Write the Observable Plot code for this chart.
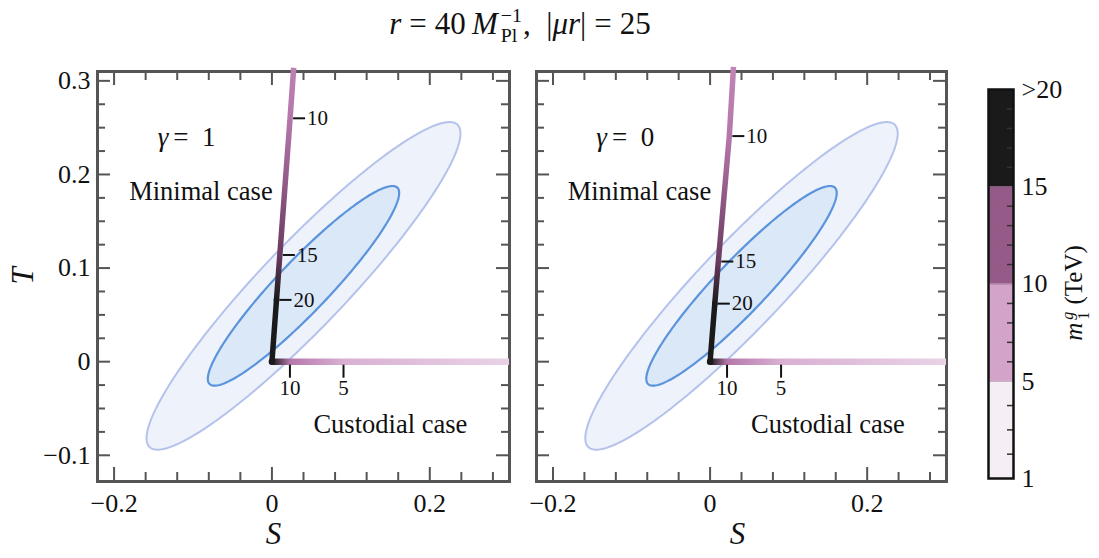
<!DOCTYPE html>
<html><head><meta charset="utf-8">
<script src="https://cdn.jsdelivr.net/npm/d3@7"></script>
<script src="https://cdn.jsdelivr.net/npm/@observablehq/plot@0.6"></script>
<style>
body{margin:0;background:#fff;}
#wrap{position:relative;width:1099px;height:558px;overflow:hidden;font-family:"Liberation Serif","DejaVu Serif",serif;color:#111;}
#wrap svg, #wrap svg text{font-family:"Liberation Serif","DejaVu Serif",serif !important;}
.abs{position:absolute;}
.stk{display:inline-block;vertical-align:-0.42em;line-height:1.0;font-size:0.64em;text-align:left;margin-left:3px;margin-right:1px;}
.stk span{display:block;}
.op{margin:0 0.26em;}
</style></head><body><div id="wrap">
<div id="title" class="abs" style="left:0;width:1040px;top:4px;text-align:center;font-size:31px;line-height:1.3;white-space:nowrap;">
<i>r</i><span class="op">=</span>40&thinsp;<i>M</i><span class="stk"><span>−1</span><span>Pl</span></span>,&ensp;|<i>μr</i>|<span class="op">=</span>25</div>
<div id="pL" class="abs" style="left:0;top:0"></div>
<div id="pR" class="abs" style="left:520px;top:0"></div>
<div id="cb" class="abs" style="left:940px;top:0"></div>
<div id="cblabel" class="abs" style="left:1076px;top:293px;transform:translate(-50%,-50%) rotate(-90deg);white-space:nowrap;font-size:25px;">
<i>m</i><span class="stk"><span><i>g</i></span><span>1</span></span> (TeV)</div>
</div>
<script>
// ---------- data ----------
const gammaLabels = ["1", "0"];
const xMajorTicks = [-0.2, 0, 0.2];
const xMinorTicks = [-0.16, -0.12, -0.08, -0.04, 0.04, 0.08, 0.12, 0.16, 0.24, 0.28];
const yMajorTicks = [-0.1, 0, 0.1, 0.2, 0.3];
const yMinorTicks = [-0.075, -0.05, -0.025, 0.025, 0.05, 0.075, 0.125, 0.15, 0.175, 0.225, 0.25, 0.275];

// electroweak fit (S, T) ellipse parameters
const fitCenter = [0.04, 0.081];
const fitSigma = [0.080, 0.0704];
const fitRho = 0.93;
const confidenceLevels = [0.9545, 0.6827];

// minimal case lines (mass in TeV along the line)
const minimalMass = [Infinity, 20, 15, 10, 9.1];
const minimalMass_g0 = [Infinity, 20, 15, 10, 8.75];
const minimalS_g1 = [0, 0.0058, 0.0100, 0.0230, 0.0276];
const minimalT_g1 = [0, 0.066, 0.114, 0.260, 0.314];
const minimalS_g0 = [0, 0.0060, 0.0105, 0.0245, 0.0298];
const minimalT_g0 = [0, 0.062, 0.107, 0.241, 0.315];
const minimalLabelMasses = [20, 15, 10];

// custodial case lines
const custodialMass = [Infinity, 10, 5, 2.7];
const custodialS_g1 = [0, 0.0228, 0.0907, 0.31];
const custodialS_g0 = [0, 0.0216, 0.0904, 0.31];
const custodialT = [0, 0, 0, 0];
const custodialLabelMasses = [10, 5];

// colour map (mass -> colour)
const massColorDomain = [1, 5, 10, 15, 20];
const massColorRange = ["#f6eef5", "#d9b0d3", "#b577ab", "#6a3b60", "#1a1a1a"];

// colour bar
const cbBounds = [1, 5, 10, 15, 20];
const cbColors = ["#f6eef5", "#d3a3ca", "#955a87", "#1a1a1a"];
const cbTickLabels = ["1", "5", "10", "15", ">20"];
const cbMinorMasses = [2, 3, 4, 6, 7, 8, 9, 11, 12, 13, 14, 16, 17, 18, 19];

// ---------- helpers ----------
const FONT = '"Liberation Serif","DejaVu Serif",serif';
const colorScale = Plot.scale({color: {type: "linear", domain: massColorDomain, range: massColorRange, clamp: true, interpolate: "rgb"}});
const massColor = m => colorScale.apply(Math.min(m, 20));

function ellipse(cl) {
  const k = Math.sqrt(-2 * Math.log(1 - cl));
  const pts = [];
  for (let i = 0; i < 240; i++) {
    const t = 2 * Math.PI * i / 240;
    pts.push({
      S: fitCenter[0] + k * fitSigma[0] * Math.cos(t),
      T: fitCenter[1] + k * fitSigma[1] * (fitRho * Math.cos(t) + Math.sqrt(1 - fitRho * fitRho) * Math.sin(t))
    });
  }
  return pts;
}

function rows(S, T, M) { return S.map((s, i) => ({S: s, T: T[i], m: M[i]})); }

function gradientMark(id, pts) {
  return (index, scales) => {
    const a = pts[0], b = pts[pts.length - 1];
    const x1 = scales.x(a.S), y1 = scales.y(a.T), x2 = scales.x(b.S), y2 = scales.y(b.T);
    const dx = x2 - x1, dy = y2 - y1, L2 = dx * dx + dy * dy;
    const defs = d3.create("svg:defs");
    const g = defs.append("linearGradient").attr("id", id).attr("gradientUnits", "userSpaceOnUse")
      .attr("x1", x1).attr("y1", y1).attr("x2", x2).attr("y2", y2);
    for (const p of pts) {
      const off = ((scales.x(p.S) - x1) * dx + (scales.y(p.T) - y1) * dy) / L2;
      g.append("stop").attr("offset", Math.max(0, Math.min(1, off))).attr("stop-color", massColor(p.m));
    }
    return defs.node();
  };
}

const hTick = {draw(ctx) { ctx.moveTo(3, 0); ctx.lineTo(15, 0); }};
const vTick = {draw(ctx) { ctx.moveTo(0, 3); ctx.lineTo(0, 16); }};
const fmt = d => d === 0 ? "0" : d3.format(".1f")(d);

function panel({gi, width, marginLeft, marginRight, showY, minimal, custodial, sLabelDx}) {
  const height = 558, marginTop = 71, marginBottom = 77;
  const fw = width - marginLeft - marginRight, fh = height - marginTop - marginBottom;
  const tickStyle = {stroke: "#555", strokeWidth: 2};
  const minLab = minimal.filter(d => minimalLabelMasses.includes(d.m));
  const cusLab = custodial.filter(d => custodialLabelMasses.includes(d.m));
  const idM = "gradM" + gi, idC = "gradC" + gi;
  return Plot.plot({
    width, height, marginLeft, marginRight, marginTop, marginBottom,
    style: {fontFamily: FONT, fontSize: "26px", color: "#111", background: "transparent", overflow: "visible"},
    x: {domain: [-0.221, 0.301], ticks: xMajorTicks, tickSize: 0, tickPadding: 12, tickFormat: fmt, label: null},
    y: showY ? {domain: [-0.128, 0.31], ticks: yMajorTicks, tickSize: 0, tickPadding: 7, tickFormat: fmt, label: null}
             : {domain: [-0.128, 0.31], axis: null},
    marks: [
      gradientMark(idM, minimal),
      gradientMark(idC, custodial),
      Plot.line(ellipse(confidenceLevels[0]), {x: "S", y: "T", curve: "linear-closed", fill: "#eef2fb", stroke: "#b4c2ec", strokeWidth: 2}),
      Plot.line(ellipse(confidenceLevels[1]), {x: "S", y: "T", curve: "linear-closed", fill: "#dbe8f8", stroke: "#5b94dc", strokeWidth: 2.2}),
      // inward ticks
      Plot.ruleX(xMajorTicks, {x: d => d, insetTop: fh - 14, ...tickStyle}),
      Plot.ruleX(xMinorTicks, {x: d => d, insetTop: fh - 9, ...tickStyle}),
      Plot.ruleX(xMajorTicks, {x: d => d, insetBottom: fh - 14, ...tickStyle}),
      Plot.ruleX(xMinorTicks, {x: d => d, insetBottom: fh - 9, ...tickStyle}),
      Plot.ruleY(yMajorTicks, {y: d => d, insetRight: fw - 13, ...tickStyle}),
      Plot.ruleY(yMinorTicks, {y: d => d, insetRight: fw - 8, ...tickStyle}),
      Plot.ruleY(yMajorTicks, {y: d => d, insetLeft: fw - 13, ...tickStyle}),
      Plot.ruleY(yMinorTicks, {y: d => d, insetLeft: fw - 8, ...tickStyle}),
      Plot.frame({stroke: "#555", strokeWidth: 3}),
      // lines
      Plot.line(custodial, {x: "S", y: "T", stroke: `url(#${idC})`, strokeWidth: 6.5, strokeLinecap: "round", clip: true}),
      Plot.line(minimal, {x: "S", y: "T", stroke: `url(#${idM})`, strokeWidth: 5.5, strokeLinecap: "butt"}),
      Plot.dot(minimal.slice(0, 2), {x: "S", y: "T", r: 2.9, fill: "#1a1a1a", stroke: "none"}),
      // mass markers
      Plot.dot(minLab, {x: "S", y: "T", symbol: hTick, stroke: "#111", strokeWidth: 2, fill: "none"}),
      Plot.text(minLab, {x: "S", y: "T", text: d => String(d.m), dx: 17, textAnchor: "start", fontSize: 21}),
      Plot.dot(cusLab, {x: "S", y: "T", symbol: vTick, stroke: "#111", strokeWidth: 2, fill: "none"}),
      Plot.text(cusLab, {x: "S", y: "T", text: d => String(d.m), dy: 27, fontSize: 21}),
      // annotations
      Plot.text(["γ"], {x: () => -0.111, y: () => 0.24, text: d => d, dx: -16, textAnchor: "end", fontStyle: "italic", fontSize: 27}),
      Plot.text([gammaLabels[gi]], {x: () => -0.111, y: () => 0.24, text: d => "=\u2002" + d, dx: -11, textAnchor: "start", fontSize: 27}),
      Plot.text(["Minimal case"], {x: () => -0.090, y: () => 0.182, text: d => d, fontSize: 26.5}),
      Plot.text(["Custodial case"], {x: () => 0.150, y: () => -0.067, text: d => d, fontSize: 26.5}),
      // axis labels
      Plot.text(["S"], {frameAnchor: "bottom", text: d => d, dx: sLabelDx, dy: 62, fontStyle: "italic", fontSize: 31}),
      ...(showY ? [Plot.text(["T"], {frameAnchor: "left", text: d => d, dx: -74, dy: 8, rotate: -90, fontStyle: "italic", fontSize: 31})] : [])
    ]
  });
}

const minG1 = rows(minimalS_g1, minimalT_g1, minimalMass);
const minG0 = rows(minimalS_g0, minimalT_g0, minimalMass_g0);
const cusG1 = rows(custodialS_g1, custodialT, custodialMass);
const cusG0 = rows(custodialS_g0, custodialT, custodialMass);

document.getElementById("pL").append(panel({gi: 0, width: 515, marginLeft: 97, marginRight: 6, showY: true, minimal: minG1, custodial: cusG1, sLabelDx: -30}));
document.getElementById("pR").append(panel({gi: 1, width: 432, marginLeft: 16, marginRight: 6, showY: false, minimal: minG0, custodial: cusG0, sLabelDx: -4}));

// colour bar
const boundIndex = d3.scaleLinear().domain(cbBounds).range(cbBounds.map((d, i) => i));
const cbRows = cbColors.map((c, i) => ({i, c}));
const cb = Plot.plot({
  width: 159, height: 558, marginLeft: 48, marginRight: 86, marginTop: 89, marginBottom: 80,
  style: {fontFamily: FONT, fontSize: "26px", color: "#111", background: "transparent", overflow: "visible"},
  x: {domain: [0, 1], axis: null},
  y: {domain: [0, 4], ticks: [0, 1, 2, 3, 4], tickFormat: i => cbTickLabels[i], tickSize: 0, tickPadding: 8, label: null, axis: "right"},
  color: {type: "identity"},
  marks: [
    Plot.rect(cbRows, {x1: () => 0, x2: () => 1, y1: d => d.i, y2: d => d.i + 1, fill: d => d.c}),
    Plot.ruleY(cbMinorMasses.map(m => boundIndex(m)), {y: d => d, insetLeft: 25 - 6, stroke: "#333", strokeWidth: 1.5}),
    Plot.ruleY([1, 2, 3], {y: d => d, stroke: "#7a4a70", strokeWidth: 0.8, strokeOpacity: 0.6}),
    Plot.frame({stroke: "#111", strokeWidth: 2.5})
  ]
});
document.getElementById("cb").append(cb);
</script>
</body></html>
